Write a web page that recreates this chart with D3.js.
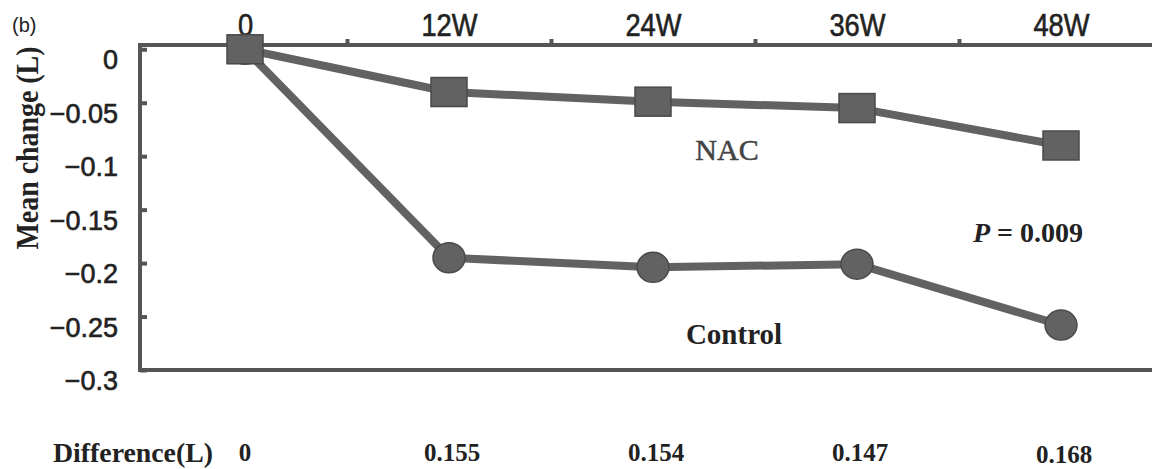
<!DOCTYPE html>
<html><head><meta charset="utf-8">
<script src="https://cdn.jsdelivr.net/npm/d3@7"></script>
<style>body{margin:0;background:#fff}svg{display:block}</style>
</head><body><svg id="c" width="1152" height="469"></svg>
<script>
const weeks = [0, 12, 24, 36, 48];
const weekLabels = ["0", "12W", "24W", "36W", "48W"];
const minorWeeks = [6, 18, 30, 42];
const nacValues = [0, -0.040, -0.049, -0.055, -0.090];
const controlValues = [0, -0.195, -0.204, -0.201, -0.258];
const differenceLabels = ["0", "0.155", "0.154", "0.147", "0.168"];
const yTicks = [0, -0.05, -0.1, -0.15, -0.2, -0.25, -0.3];
const yTickLabels = ["0", "\u22120.05", "\u22120.1", "\u22120.15", "\u22120.2", "\u22120.25", "\u22120.3"];

const svg = d3.select("#c");
const L = 140, R = 1152, T = 45, B = 370;
const x = d3.scaleLinear().domain([0, 48]).range([245, 1061]);
const y = d3.scaleLinear().domain([-0.3, 0.004]).range([B, T]);
const axisCol = "#555", markCol = "#626262", textCol = "#222";
const sans = "'Liberation Sans', Arial, sans-serif";

// frame lines
svg.append("line").attr("x1", L).attr("x2", R).attr("y1", T).attr("y2", T).attr("stroke", axisCol).attr("stroke-width", 4);
svg.append("line").attr("x1", L).attr("x2", R).attr("y1", B).attr("y2", B).attr("stroke", axisCol).attr("stroke-width", 4);

// left axis
const ya = svg.append("g").attr("transform", `translate(${L},0)`)
  .call(d3.axisLeft(y).tickValues(yTicks).tickFormat((d, i) => yTickLabels[i]).tickSize(-7).tickPadding(22));
ya.select(".domain").remove();
ya.append("line").attr("x1", 0).attr("x2", 0).attr("y1", T - 2).attr("y2", B + 2).attr("stroke", axisCol).attr("stroke-width", 4);
ya.selectAll(".tick line").attr("stroke", axisCol).attr("stroke-width", 4);
ya.selectAll(".tick text").attr("y", 11).attr("fill", textCol).attr("stroke", textCol).attr("stroke-width", 0.6)
  .style("font-family", sans).style("font-size", "27px");

// top axis labels
const xa = svg.append("g").attr("transform", `translate(0,${T})`)
  .call(d3.axisTop(x).tickValues(weeks).tickFormat((d, i) => weekLabels[i]).tickSize(0).tickPadding(9));
xa.select(".domain").remove();
xa.selectAll(".tick text").attr("fill", textCol).attr("stroke", textCol).attr("stroke-width", 0.6)
  .style("font-family", sans).style("font-size", "31px")
  .each(function () { const w = this.getComputedTextLength(); d3.select(this).attr("textLength", w * 0.88).attr("lengthAdjust", "spacingAndGlyphs"); });
// minor top ticks
const xm = svg.append("g").attr("transform", `translate(0,${T})`)
  .call(d3.axisTop(x).tickValues(minorWeeks).tickFormat("").tickSize(6));
xm.select(".domain").remove();
xm.selectAll(".tick line").attr("stroke", axisCol).attr("stroke-width", 4);

// lines
const line = d3.line().x((d, i) => x(weeks[i])).y(d => y(d));
svg.append("path").datum(controlValues).attr("d", line).attr("fill", "none")
  .attr("stroke", markCol).attr("stroke-width", 8).attr("stroke-linejoin", "round");
svg.selectAll(".cpt").data(controlValues).enter().append("ellipse")
  .attr("cx", (d, i) => x(weeks[i])).attr("cy", d => y(d)).attr("rx", 16).attr("ry", 15)
  .attr("fill", markCol).attr("stroke", "#4a4a4a").attr("stroke-width", 1.5);
svg.append("path").datum(nacValues).attr("d", line).attr("fill", "none")
  .attr("stroke", markCol).attr("stroke-width", 8).attr("stroke-linejoin", "round");
svg.selectAll(".npt").data(nacValues).enter().append("rect")
  .attr("x", (d, i) => x(weeks[i]) - 18).attr("y", d => y(d) - 14.5).attr("width", 36).attr("height", 29)
  .attr("fill", markCol).attr("stroke", "#4a4a4a").attr("stroke-width", 1.5);

// annotations
const serif = "'Liberation Serif', 'Times New Roman', serif";
svg.append("text").attr("x", 727).attr("y", 160).attr("text-anchor", "middle")
  .style("font-family", serif).style("font-size", "30px").attr("fill", "#444").attr("stroke", "#444").attr("stroke-width", 0.5).text("NAC");
svg.append("text").attr("x", 734).attr("y", 344).attr("text-anchor", "middle")
  .style("font-family", serif).style("font-size", "29px").style("font-weight", "bold").attr("fill", textCol).text("Control");
const p = svg.append("text").attr("x", 1028).attr("y", 242).attr("text-anchor", "middle")
  .style("font-family", serif).style("font-size", "28px").style("font-weight", "bold").attr("fill", textCol);
p.append("tspan").style("font-style", "italic").text("P");
p.append("tspan").text(" = 0.009");

// y title
svg.append("text").attr("transform", "translate(38,148) rotate(-90)").attr("text-anchor", "middle")
  .style("font-family", serif).style("font-size", "32px").style("font-weight", "bold").attr("fill", textCol)
  .attr("textLength", 203).attr("lengthAdjust", "spacingAndGlyphs").text("Mean change (L)");

// (b)
svg.append("text").attr("x", 12).attr("y", 32).style("font-family", sans)
  .style("font-size", "20px").attr("fill", textCol).text("(b)");

// difference row
svg.append("text").attr("x", 53).attr("y", 462).style("font-family", serif).style("font-size", "27px")
  .style("font-weight", "bold").attr("fill", textCol).attr("textLength", 160).attr("lengthAdjust", "spacingAndGlyphs")
  .text("Difference(L)");
svg.selectAll(".diff").data(differenceLabels).enter().append("text")
  .attr("x", (d, i) => x(weeks[i]) + (i === 0 ? 0 : 3)).attr("y", (d, i) => i === 4 ? 463 : 461).attr("text-anchor", "middle")
  .style("font-family", serif).style("font-size", "25px").style("font-weight", "bold").attr("fill", textCol)
  .text(d => d);
</script></body></html>
